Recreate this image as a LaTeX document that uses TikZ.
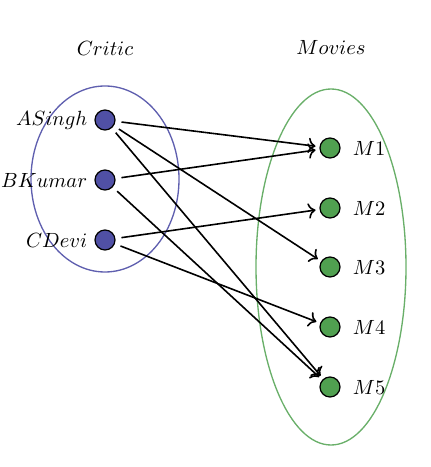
\documentclass[tikz,border=0pt]{standalone}
\usepackage{amsmath, amssymb}
\usepackage{tikz}
\usetikzlibrary{arrows.meta}

\definecolor{criticblue}{RGB}{80,80,165}
\definecolor{moviegreen}{RGB}{80,160,80}
\definecolor{setblue}{RGB}{95,95,175}
\definecolor{setgreen}{RGB}{105,175,105}

\begin{document}
\begin{tikzpicture}[x=0.75pt, y=0.75pt,
    bigtext/.style={scale=1.54},
    every label/.style={bigtext},
    critic/.style={circle, draw=black, line width=0.9pt, fill=criticblue, minimum size=15pt, inner sep=0pt},
    movie/.style={circle, draw=black, line width=0.9pt, fill=moviegreen, minimum size=15pt, inner sep=0pt},
    rel/.style={-{To[scale=1.3]}, line width=1.2pt, shorten >=3pt, shorten <=4.5pt}]
    \useasboundingbox (0,0) rectangle (430,467);

    % The two sets
    \draw[setblue, line width=1pt] (105,288) ellipse (74 and 93);
    \draw[setgreen, line width=1pt] (331,200) ellipse (75 and 178);

    % Set titles
    \node[bigtext] (critictitle) at (105,419) {$Critic$};
    \node[bigtext] (moviestitle) at (331,420) {$Movies$};

    % Critics
    \node[critic, label={[label distance=0pt]left:$ASingh$}] (ASingh) at (105,347) {};
    \node[critic, label={[label distance=0pt]left:$BKumar$}] (BKumar) at (105,287) {};
    \node[critic, label={[label distance=0pt]left:$CDevi$}] (CDevi) at (105,227) {};

    % Movies
    \node[movie, label={[label distance=2.5pt]right:$M1$}] (M1) at (330,319) {};
    \node[movie, label={[label distance=2.5pt]right:$M2$}] (M2) at (330,259) {};
    \node[movie, label={[label distance=2.5pt]right:$M3$}] (M3) at (330,200) {};
    \node[movie, label={[label distance=2.5pt]right:$M4$}] (M4) at (330,140) {};
    \node[movie, label={[label distance=2.5pt]right:$M5$}] (M5) at (330,80) {};

    % Ratings
    \draw[rel] (ASingh) -- (M1);
    \draw[rel] (ASingh) -- (M3);
    \draw[rel] (ASingh) -- (M5);
    \draw[rel] (BKumar) -- (M1);
    \draw[rel] (BKumar) -- (M5);
    \draw[rel] (CDevi) -- (M2);
    \draw[rel] (CDevi) -- (M4);
\end{tikzpicture}
\end{document}
